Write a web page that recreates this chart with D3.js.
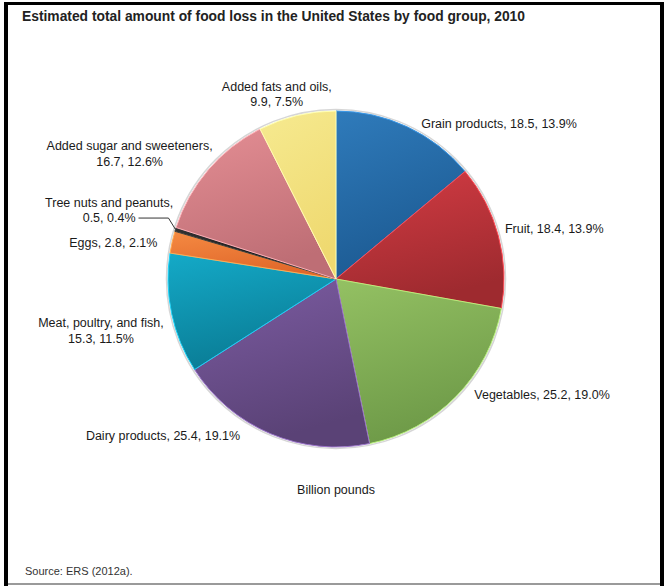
<!DOCTYPE html>
<html>
<head>
<meta charset="utf-8">
<script src="https://cdn.jsdelivr.net/npm/d3@7"></script>
<style>
  body { margin: 0; background: #fff; }
  svg { display: block; font-family: "Liberation Sans", Arial, sans-serif; }
</style>
</head>
<body>
<svg id="chart" width="664" height="586"></svg>
<script>
const WIDTH = 664;
const HEIGHT = 586;

// data, clockwise from 12 o'clock
const categories = [
	"Grain products",
	"Fruit",
	"Vegetables",
	"Dairy products",
	"Meat, poultry, and fish",
	"Eggs",
	"Tree nuts and peanuts",
	"Added sugar and sweeteners",
	"Added fats and oils",
];
const values = [18.5, 18.4, 25.2, 25.4, 15.3, 2.8, 0.5, 16.7, 9.9];
const percents = ["13.9%", "13.9%", "19.0%", "19.1%", "11.5%", "2.1%", "0.4%", "12.6%", "7.5%"];
const topColors = ["#2f7bbb", "#d43c44", "#94c163", "#7c5ca2", "#14aac8", "#f58a42", "#333333", "#e48e94", "#f6ea90"];
const bottomColors = ["#1c5a92", "#9e2a2f", "#6e9a48", "#5a4276", "#0a7c95", "#e0672a", "#111111", "#be6e75", "#efd970"];

// label layout: anchor, whether name is on its own line, nudge from the label arc point
const labelLayout = [
	{ anchor: "start", split: false, dx: 8, dy: 9 },
	{ anchor: "start", split: false, dx: -7, dy: -4 },
	{ anchor: "start", split: false, dx: 8, dy: -11 },
	{ anchor: "end", split: false, dx: -25, dy: -11 },
	{ anchor: "middle", split: true, dx: -57, dy: 14 },
	{ anchor: "end", split: false, dx: -1, dy: 4 },
	{ anchor: "middle", split: true, dx: -53, dy: -15, leader: true },
	{ anchor: "middle", split: true, dx: -68, dy: -7 },
	{ anchor: "middle", split: true, dx: -17, dy: -8 },
];

const cx = 336;
const cy = 279;
const radius = 168;
const lineHeight = 15.5;

const svg = d3.select("#chart");

// page frame
svg.append("rect").attr("x", 0).attr("y", 0).attr("width", WIDTH).attr("height", HEIGHT).attr("fill", "#fff");
svg.append("rect").attr("x", 4).attr("y", 2).attr("width", 660).attr("height", 3).attr("fill", "#000");
svg.append("rect").attr("x", 4).attr("y", 2).attr("width", 4).attr("height", 584).attr("fill", "#000");
svg.append("rect").attr("x", 660).attr("y", 2).attr("width", 4).attr("height", 584).attr("fill", "#000");
svg.append("rect").attr("x", 8).attr("y", 583).attr("width", 652).attr("height", 2).attr("fill", "#9a9a9a");

svg.append("text")
	.attr("x", 22)
	.attr("y", 21)
	.attr("font-size", 14)
	.attr("font-weight", "bold")
	.attr("fill", "#222")
	.attr("textLength", 503)
	.attr("lengthAdjust", "spacingAndGlyphs")
	.text("Estimated total amount of food loss in the United States by food group, 2010");

const defs = svg.append("defs");
const grads = defs.selectAll("linearGradient")
	.data(d3.range(values.length))
	.join("linearGradient")
	.attr("id", i => "slice-grad-" + i)
	.attr("x1", 0).attr("y1", 0).attr("x2", 0.3).attr("y2", 1);
grads.append("stop").attr("offset", 0).attr("stop-color", i => topColors[i]);
grads.append("stop").attr("offset", 1).attr("stop-color", i => bottomColors[i]);

const pie = d3.pie().sort(null).value(d => d)(values);
const arc = d3.arc().innerRadius(0).outerRadius(radius);
const labelArc = d3.arc().innerRadius(radius + 14).outerRadius(radius + 14);

const g = svg.append("g").attr("transform", `translate(${cx},${cy})`);

// faint outer shadow
g.append("circle").attr("r", radius + 1.5).attr("fill", "none").attr("stroke", "#bbb").attr("stroke-width", 1.5).attr("opacity", 0.6);

g.selectAll(".slice")
	.data(pie)
	.join("path")
	.classed("slice", true)
	.attr("d", arc)
	.attr("fill", (d, i) => `url(#slice-grad-${i})`)
	.attr("stroke", (d, i) => d3.color(topColors[i]).brighter(0.6))
	.attr("stroke-width", 1)
	.attr("stroke-linejoin", "round");

// labels
g.selectAll(".label")
	.data(pie)
	.join("text")
	.classed("label", true)
	.attr("font-size", 12.5)
	.attr("fill", "#1a1a1a")
	.attr("text-anchor", (d, i) => labelLayout[i].anchor)
	.each(function (d, i) {
		const lay = labelLayout[i];
		const [px, py] = labelArc.centroid(d);
		const x = px + lay.dx;
		const y = py + lay.dy;
		const t = d3.select(this);
		if (lay.split) {
			t.append("tspan").attr("x", x).attr("y", y - lineHeight / 2).attr("dy", "0.35em").text(categories[i] + ",");
			t.append("tspan").attr("x", x).attr("y", y + lineHeight / 2).attr("dy", "0.35em").text(`${values[i]}, ${percents[i]}`);
		} else {
			t.append("tspan").attr("x", x).attr("y", y).attr("dy", "0.35em").text(`${categories[i]}, ${values[i]}, ${percents[i]}`);
		}
		if (lay.leader) {
			const second = t.selectAll("tspan").nodes()[1];
			const w = second.getComputedTextLength();
			const ly = y + lineHeight / 2;
			const edge = d3.arc().innerRadius(radius).outerRadius(radius).centroid(d);
			g.append("polyline")
				.attr("points", [[x + w / 2 + 3, ly], [edge[0] - 7, ly], edge].map(p => p.join(",")).join(" "))
				.attr("fill", "none")
				.attr("stroke", "#333")
				.attr("stroke-width", 1);
		}
	});

svg.append("text")
	.attr("x", cx)
	.attr("y", 490)
	.attr("dy", "0.35em")
	.attr("text-anchor", "middle")
	.attr("font-size", 12.5)
	.attr("fill", "#1a1a1a")
	.text("Billion pounds");

svg.append("text")
	.attr("x", 25)
	.attr("y", 571)
	.attr("dy", "0.35em")
	.attr("font-size", 11)
	.attr("fill", "#333")
	.text("Source: ERS (2012a).");
</script>
</body>
</html>
